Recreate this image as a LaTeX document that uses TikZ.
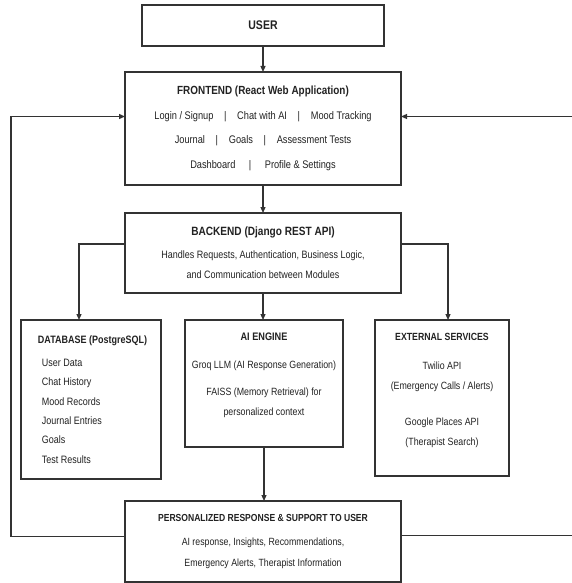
\documentclass[tikz,border=0pt]{standalone}
\usepackage{fontspec}
\setmainfont{Liberation Sans}[FakeStretch=0.84]
\usepackage{xcolor}
\usetikzlibrary{shapes, arrows.meta, positioning}

\definecolor{inkline}{HTML}{333333}
\definecolor{inktext}{HTML}{222222}

\tikzset{
  block/.style={draw=inkline, line width=1.5pt, rectangle, fill=white,
    inner sep=0pt, outer sep=0pt, align=center, text=inktext},
  flow/.style={draw=inkline, line width=1.2pt,
    -{Triangle[length=6pt, width=5pt]}},
  plain/.style={draw=inkline, line width=1.2pt}
}
\newcommand{\sep}[1][10.7pt]{\hspace{#1}|\hspace{#1}}

\begin{document}
\begin{tikzpicture}[x=1pt, y=-1pt]
  \useasboundingbox[fill=white] (0,0) rectangle (571,583);

  % top row
  \node[block, minimum width=242pt, minimum height=41pt,
        font=\bfseries\fontsize{12.5}{15}\selectfont] (user) at (263,25.5) {USER};

  \node[block, minimum width=276pt, minimum height=113pt,
        font=\fontsize{11}{24.7}\selectfont] (front) at (263,128.5) {
    \textbf{\fontsize{11.8}{24.7}\selectfont FRONTEND (React Web Application)}\\
    Login / Signup\sep Chat with AI\sep Mood Tracking\\
    Journal\sep Goals\sep Assessment Tests\\
    Dashboard\sep[13.5pt]Profile \& Settings};

  \node[block, minimum width=276pt, minimum height=80pt,
        font=\fontsize{10.7}{20}\selectfont] (back) at (263,253) {
    \textbf{\fontsize{12}{20}\selectfont BACKEND (Django REST API)}\\[3pt]
    Handles Requests, Authentication, Business Logic,\\
    and Communication between Modules};

  % middle row
  \node[block, minimum width=140pt, minimum height=159pt, align=left,
        font=\fontsize{10.7}{19.4}\selectfont] (db) at (91,399.5) {
    \hspace*{3pt}\textbf{DATABASE (PostgreSQL)}\\[3.6pt]
    \hspace*{7pt}User Data\\
    \hspace*{7pt}Chat History\\
    \hspace*{7pt}Mood Records\\
    \hspace*{7pt}Journal Entries\\
    \hspace*{7pt}Goals\\
    \hspace*{7pt}Test Results};

  \node[block, minimum width=158pt, minimum height=127pt, text depth=19pt,
        font=\fontsize{10.5}{20}\selectfont] (ai) at (264,383.5) {
    \textbf{\fontsize{10.9}{20}\selectfont AI ENGINE}\\[8pt]
    Groq LLM (AI Response Generation)\\[7pt]
    FAISS (Memory Retrieval) for\\
    personalized context};

  \node[block, minimum width=134pt, minimum height=156pt, text depth=18pt,
        font=\fontsize{10.5}{20}\selectfont] (ext) at (442,398) {
    \textbf{\fontsize{10.4}{20}\selectfont EXTERNAL SERVICES}\\[9pt]
    Twilio API\\
    (Emergency Calls / Alerts)\\[16pt]
    Google Places API\\
    (Therapist Search)};

  % bottom
  \node[block, minimum width=276pt, minimum height=81pt,
        font=\fontsize{10.45}{21}\selectfont] (resp) at (263,541.5) {
    \textbf{\fontsize{10.2}{21}\selectfont PERSONALIZED RESPONSE \& SUPPORT TO USER}\\[3pt]
    AI response, Insights, Recommendations,\\
    Emergency Alerts, Therapist Information};

  % rails of the feedback loops
  \coordinate (railL) at (11,300);
  \coordinate (railR) at (573,300);

  % connectors
  \draw[flow] (user) -- (front);
  \draw[flow] (front) -- (back);
  \draw[flow] ([yshift=9pt]back.west) -| ([xshift=-12pt]db.north);
  \draw[flow] (back) -- (back.south |- ai.north);
  \draw[flow] ([yshift=9pt]back.east) -| ([xshift=6pt]ext.north);
  \draw[flow] (ai) -- (ai.south |- resp.north);

  \draw[flow] ([yshift=5pt]resp.west) -| (railL) |- ([yshift=12pt]front.west);
  \draw[flow] ([yshift=6pt]resp.east) -| (railR) |- ([yshift=12pt]front.east);
\end{tikzpicture}
\end{document}
